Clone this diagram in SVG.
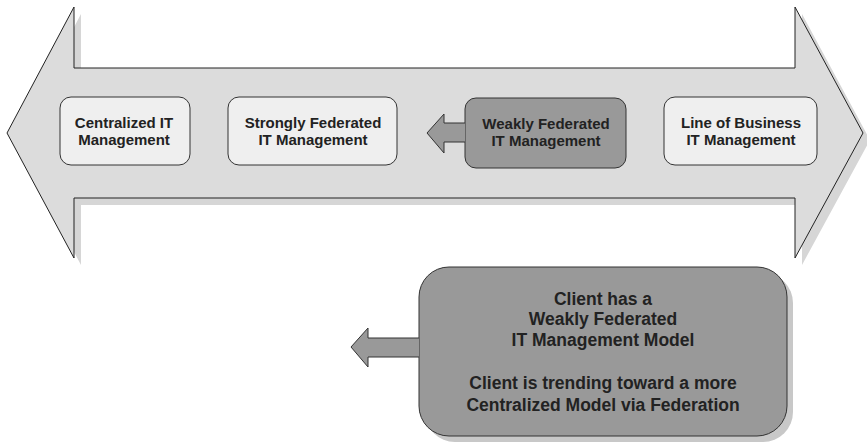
<svg xmlns="http://www.w3.org/2000/svg" width="867" height="443" viewBox="0 0 867 443">
<style>
.shadow{fill:#d6d6d6;stroke:none}
.big{fill:#dcdcdc;stroke:#222;stroke-width:1}
.light{fill:#efefef;stroke:#333;stroke-width:1}
.dark{fill:#999;stroke:#333;stroke-width:1}
.t{font-family:"Liberation Sans",Arial,sans-serif;font-weight:bold;fill:#222;text-anchor:middle}
.s{font-size:15px}
.b{font-size:17.5px}
</style>
<rect width="867" height="443" fill="#fff"/>
<g id="scale-arrow">
<path class="shadow" transform="translate(7,7)" d="M7,133 L74,7 L74,68 L795,68 L795,7 L863,133 L795,258 L795,198 L74,198 L74,258 Z"/>
<path class="big" d="M7,133 L74,7 L74,68 L795,68 L795,7 L863,133 L795,258 L795,198 L74,198 L74,258 Z"/>
</g>
<g id="centralized">
<rect class="light" x="60" y="97" width="130" height="68" rx="11"/>
<text class="t s" x="124" y="128">Centralized IT</text>
<text class="t s" x="124" y="145">Management</text>
</g>
<g id="strongly">
<rect class="light" x="228" y="97" width="169" height="68" rx="11"/>
<text class="t s" x="313" y="128">Strongly Federated</text>
<text class="t s" x="313" y="145">IT Management</text>
</g>
<g id="weakly">
<rect class="dark" x="465" y="98" width="161" height="70" rx="11"/>
<text class="t s" x="546" y="129">Weakly Federated</text>
<text class="t s" x="546" y="146">IT Management</text>
</g>
<g id="lob">
<rect class="light" x="664" y="97" width="153" height="68" rx="11"/>
<text class="t s" x="741" y="128">Line of Business</text>
<text class="t s" x="741" y="145">IT Management</text>
</g>
<g id="summary">
<rect class="shadow" style="fill:#c8c8c8" x="425" y="273" width="368" height="169" rx="30"/>
<rect class="dark" x="419" y="267" width="368" height="169" rx="30"/>
<text class="t b" x="603" y="305">Client has a</text>
<text class="t b" x="603" y="325">Weakly Federated</text>
<text class="t b" x="603" y="346">IT Management Model</text>
<text class="t b" x="603" y="389">Client is trending toward a more</text>
<text class="t b" x="603" y="411">Centralized Model via Federation</text>
</g>
<g id="connectors">
<path class="dark" d="M465,123 L444,123 L444,114 L427,133 L444,153 L444,142 L465,142"/>
<path class="dark" d="M419,338 L368,338 L368,328 L351,347 L368,367 L368,357 L419,357"/>
</g>
</svg>
